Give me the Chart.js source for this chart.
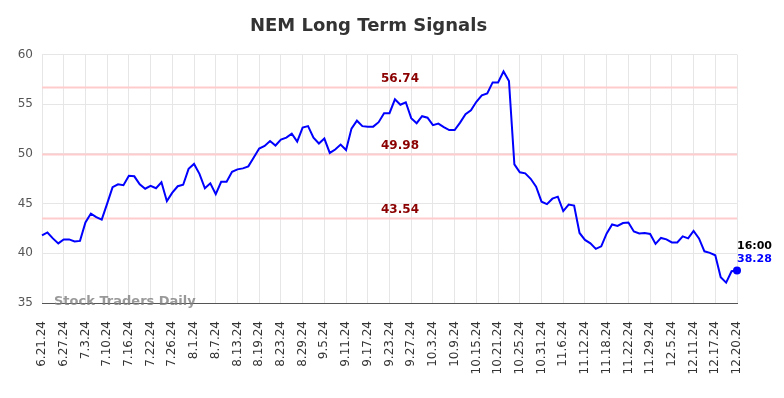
<!DOCTYPE html>
<html>
<head>
<meta charset="utf-8">
<script src="https://cdn.jsdelivr.net/npm/chart.js@4/dist/chart.umd.min.js"></script>
<style>
html,body{margin:0;padding:0;background:#fff;}
#wrap{width:784px;height:398px;position:relative;}
</style>
</head>
<body>
<div id="wrap"><canvas id="c" width="784" height="398"></canvas></div>
<script>
const chartTitle = "NEM Long Term Signals";
const dates = [
"6.21.24","6.24.24","6.25.24","6.26.24","6.27.24","6.28.24","7.1.24","7.2.24","7.3.24","7.5.24",
"7.8.24","7.9.24","7.10.24","7.11.24","7.12.24","7.15.24","7.16.24","7.17.24","7.18.24","7.19.24",
"7.22.24","7.23.24","7.24.24","7.25.24","7.26.24","7.29.24","7.30.24","7.31.24","8.1.24","8.2.24",
"8.5.24","8.6.24","8.7.24","8.8.24","8.9.24","8.12.24","8.13.24","8.14.24","8.15.24","8.16.24",
"8.19.24","8.20.24","8.21.24","8.22.24","8.23.24","8.26.24","8.27.24","8.28.24","8.29.24","8.30.24",
"9.3.24","9.4.24","9.5.24","9.6.24","9.9.24","9.10.24","9.11.24","9.12.24","9.13.24","9.16.24",
"9.17.24","9.18.24","9.19.24","9.20.24","9.23.24","9.24.24","9.25.24","9.26.24","9.27.24","9.30.24",
"10.1.24","10.2.24","10.3.24","10.4.24","10.7.24","10.8.24","10.9.24","10.10.24","10.11.24","10.14.24",
"10.15.24","10.16.24","10.17.24","10.18.24","10.21.24","10.22.24","10.23.24","10.24.24","10.25.24","10.28.24",
"10.29.24","10.30.24","10.31.24","11.1.24","11.4.24","11.5.24","11.6.24","11.7.24","11.8.24","11.11.24",
"11.12.24","11.13.24","11.14.24","11.15.24","11.18.24","11.19.24","11.20.24","11.21.24","11.22.24","11.25.24",
"11.26.24","11.27.24","11.29.24","12.2.24","12.3.24","12.4.24","12.5.24","12.6.24","12.9.24","12.10.24",
"12.11.24","12.12.24","12.13.24","12.16.24","12.17.24","12.18.24","12.19.24","12.20.24","12.20.24"
];
const prices = [
41.8,42.1,41.5,41.0,41.4,41.4,41.2,41.25,43.1,44.0,
43.65,43.4,45.0,46.65,46.95,46.85,47.8,47.75,46.95,46.5,
46.8,46.55,47.15,45.25,46.1,46.75,46.9,48.5,49.0,48.0,
46.55,47.05,45.95,47.2,47.2,48.2,48.45,48.55,48.75,49.65,
50.55,50.8,51.3,50.85,51.45,51.65,52.05,51.25,52.65,52.8,
51.65,51.05,51.55,50.1,50.45,50.95,50.4,52.55,53.35,52.8,
52.75,52.75,53.2,54.1,54.1,55.5,54.95,55.2,53.6,53.1,
53.8,53.65,52.9,53.05,52.7,52.4,52.4,53.15,54.0,54.4,
55.25,55.9,56.1,57.2,57.2,58.3,57.35,48.95,48.15,48.05,
47.5,46.7,45.2,44.95,45.5,45.7,44.25,44.9,44.8,42.05,
41.35,41.0,40.45,40.7,42.0,42.9,42.75,43.05,43.1,42.2,
42.0,42.05,41.95,40.95,41.55,41.4,41.1,41.1,41.7,41.5,
42.25,41.5,40.2,40.05,39.8,37.6,37.05,38.2,38.28
];
const signalLevels = [56.74, 49.98, 43.54];
const yTicks = [35, 40, 45, 50, 55, 60];
const lastTime = "16:00";
const lastValue = "38.28";
const watermark = "Stock Traders Daily";
const labelEvery = 4;

const FONT = "'DejaVu Sans', sans-serif";

const overlay = {
  id: 'overlay',
  beforeDatasetsDraw(chart) {
    const {ctx, chartArea, scales} = chart;
    ctx.save();
    ctx.strokeStyle = '#ffcccc';
    ctx.lineWidth = 2;
    signalLevels.forEach(v => {
      const y = Math.round(scales.y.getPixelForValue(v)) + 0.5;
      ctx.beginPath();
      ctx.moveTo(chartArea.left, y);
      ctx.lineTo(chartArea.right, y);
      ctx.stroke();
    });
    ctx.restore();
  },
  afterDatasetsDraw(chart) {
    const {ctx, chartArea, scales} = chart;
    ctx.save();
    ctx.font = "bold 12px " + FONT;
    ctx.fillStyle = '#8b0000';
    ctx.textAlign = 'center';
    ctx.textBaseline = 'middle';
    const cx = chart.width / 2 + 8;
    signalLevels.forEach(v => {
      const y = scales.y.getPixelForValue(v);
      ctx.fillText(v.toFixed(2), cx, y - 8);
    });
    // last point marker + labels
    const i = prices.length - 1;
    const px = scales.x.getPixelForValue(i);
    const py = scales.y.getPixelForValue(prices[i]);
    ctx.fillStyle = '#0000ff';
    ctx.beginPath();
    ctx.arc(px, py, 4, 0, Math.PI * 2);
    ctx.fill();
    ctx.textAlign = 'left';
    ctx.font = "bold 11px " + FONT;
    ctx.fillStyle = '#000000';
    ctx.fillText(lastTime, px, py - 24);
    ctx.fillStyle = '#0000ff';
    ctx.fillText(lastValue, px, py - 11);
    // watermark
    ctx.font = "bold 13px " + FONT;
    ctx.fillStyle = 'rgba(128,128,128,0.8)';
    ctx.textAlign = 'left';
    ctx.fillText(watermark, 54, chartArea.bottom - 1);
    ctx.restore();
  }
};

new Chart(document.getElementById('c'), {
  type: 'line',
  data: {
    labels: dates,
    datasets: [{
      data: prices,
      borderColor: '#0000ff',
      borderWidth: 2,
      pointRadius: 0,
      pointHoverRadius: 0,
      tension: 0,
      fill: false
    }]
  },
  options: {
    responsive: false,
    animation: false,
    devicePixelRatio: 1,
    layout: { padding: { left: 0, right: 47, top: 0, bottom: 0 } },
    plugins: {
      legend: { display: false },
      tooltip: { enabled: false },
      title: {
        display: true,
        text: chartTitle,
        color: '#333333',
        font: { family: FONT, size: 18, weight: 'bold' },
        padding: { top: 16, bottom: 17 }
      }
    },
    scales: {
      x: {
        grid: {
          color: '#e6e6e6',
          drawTicks: false
        },
        border: { color: '#555555', width: 1 },
        ticks: {
          autoSkip: false,
          maxRotation: 90,
          minRotation: 90,
          padding: 18,
          color: '#333333',
          font: { family: FONT, size: 12 },
          callback: function(val, idx) {
            return (idx % labelEvery === 0) ? dates[idx] : null;
          }
        },
        afterFit(scale) { scale.height = 95; }
      },
      y: {
        min: 35,
        max: 60,
        grid: { color: '#e6e6e6', drawTicks: false },
        border: { display: false },
        afterBuildTicks(scale) { scale.ticks = yTicks.map(v => ({ value: v })); },
        ticks: {
          padding: 9,
          color: '#555555',
          font: { family: FONT, size: 12 }
        },
        afterFit(scale) { scale.width = 42; }
      }
    }
  },
  plugins: [overlay]
});
</script>
</body>
</html>
